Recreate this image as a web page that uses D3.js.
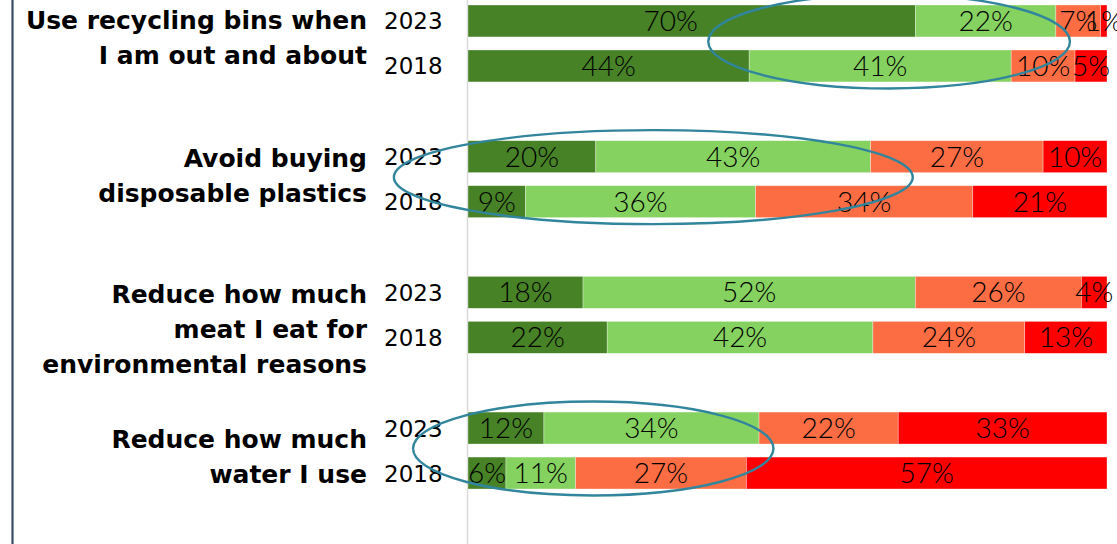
<!DOCTYPE html>
<html>
<head>
<meta charset="utf-8">
<script src="https://cdn.jsdelivr.net/npm/d3@7"></script>
<style>
  html, body { margin: 0; padding: 0; background: #fff; }
  svg { display: block; }
</style>
</head>
<body>
<svg id="chart" width="1117" height="544"></svg>
<script>
// Behaviours asked about, each shown as two years side by side
const topics = ["recycling", "plastics", "meat", "water"];
const topicLines = [
  ["Use recycling bins when", "I am out and about"],
  ["Avoid buying", "disposable plastics"],
  ["Reduce how much", "meat I eat for", "environmental reasons"],
  ["Reduce how much", "water I use"]
];
const years = ["2023", "2018"];

// Response shares (%), ordered from the most positive answer to the least
const levels = ["level1", "level2", "level3", "level4"];
const values2023 = [[70, 22, 7, 1], [20, 43, 27, 10], [18, 52, 26, 4], [12, 34, 22, 33]];
const values2018 = [[44, 41, 10, 5], [9, 36, 34, 21], [22, 42, 24, 13], [6, 11, 27, 57]];
const levelColors = ["#478227", "#86d260", "#fd6d44", "#ff0000"];

// Highlight rings: topic index and the share span each ring covers
const ringTopics = [0, 1, 3];
const ringSpan = [[0.376, 0.942], [-0.116, 0.696], [-0.086, 0.478]];

// Layout
const W = 1117, H = 544;
const axisX = 468, barEnd = 1107;
const labelRight = 367, yearLeft = 384;
const lineGap = 35;
const labelFirstLine = [-14, -12, -12, -3];

const svg = d3.select("#chart");

const rows = [];
topics.forEach((t, i) => {
  [["2023", values2023[i]], ["2018", values2018[i]]].forEach(([yr, v]) => {
    const r = { topic: t, year: yr };
    levels.forEach((k, j) => r[k] = v[j]);
    rows.push(r);
  });
});

const x = d3.scaleLinear().domain([0, 1]).range([axisX, barEnd]);
const yGroup = d3.scaleBand().domain(topics).range([5, 489]).paddingInner(0.433).paddingOuter(0);
const yYear = d3.scaleBand().domain(years).range([0, yGroup.bandwidth()]).paddingInner(0.29);
const color = d3.scaleOrdinal().domain(levels).range(levelColors);

const stacked = d3.stack().keys(levels).offset(d3.stackOffsetExpand)(rows);

// Frame line on the left
svg.append("line")
  .attr("x1", 12.5).attr("x2", 12.5).attr("y1", 0).attr("y2", H)
  .attr("stroke", "#3b4a68").attr("stroke-width", 2.2);

// Category axis line
svg.append("line")
  .attr("x1", axisX - 0.5).attr("x2", axisX - 0.5).attr("y1", 0).attr("y2", H)
  .attr("stroke", "#d9d9d9").attr("stroke-width", 1.5);

const rowY = d => yGroup(d.data.topic) + yYear(d.data.year);

// Stacked bars
const series = svg.append("g").selectAll("g").data(stacked).join("g")
  .attr("fill", s => color(s.key));

series.selectAll("rect").data(s => s).join("rect")
  .attr("x", d => x(d[0]))
  .attr("y", d => rowY(d))
  .attr("width", d => x(d[1]) - x(d[0]))
  .attr("height", yYear.bandwidth())
  .attr("stroke", "#ffffff").attr("stroke-opacity", 0.55).attr("stroke-width", 0.6);

// Value labels centred in each segment (the widest one sits a little left of centre)
const labels = svg.append("g")
  .attr("font-family", "Lato, 'DejaVu Sans', sans-serif")
  .attr("font-weight", 300)
  .attr("font-size", 28)
  .attr("fill", "#000")
  .attr("text-anchor", "middle");

stacked.forEach(s => {
  labels.selectAll(null).data(s).join("text")
    .attr("x", d => x((d[0] + d[1]) / 2) - (d[1] - d[0] > 0.65 ? 21 : 0))
    .attr("y", d => rowY(d) + yYear.bandwidth() / 2 + 10)
    .text(d => d.data[s.key] + "%");
});

// Year labels
svg.append("g")
  .attr("font-family", "'DejaVu Sans', sans-serif")
  .attr("font-size", 23)
  .attr("fill", "#000")
  .selectAll("text").data(rows).join("text")
  .attr("x", yearLeft)
  .attr("y", d => yGroup(d.topic) + yYear(d.year) + yYear.bandwidth() / 2 + 8.5)
  .text(d => d.year);

// Topic labels
const topicG = svg.append("g")
  .attr("font-family", "'DejaVu Sans', sans-serif")
  .attr("font-weight", "bold")
  .attr("font-size", 25)
  .attr("fill", "#000")
  .attr("text-anchor", "end");

topics.forEach((t, i) => {
  const cy = yGroup(t) + yGroup.bandwidth() / 2;
  topicG.selectAll(null).data(topicLines[i]).join("text")
    .attr("x", labelRight)
    .attr("y", (l, k) => cy + labelFirstLine[i] + k * lineGap)
    .text(l => l);
});

// Highlight rings
svg.append("g").selectAll("ellipse").data(ringTopics).join("ellipse")
  .attr("cx", (t, i) => (x(ringSpan[i][0]) + x(ringSpan[i][1])) / 2)
  .attr("cy", t => yGroup(topics[t]) + yGroup.bandwidth() / 2 - 2)
  .attr("rx", (t, i) => (x(ringSpan[i][1]) - x(ringSpan[i][0])) / 2)
  .attr("ry", 47)
  .attr("fill", "none")
  .attr("stroke", "#31859c")
  .attr("stroke-width", 2.4);
</script>
</body>
</html>
